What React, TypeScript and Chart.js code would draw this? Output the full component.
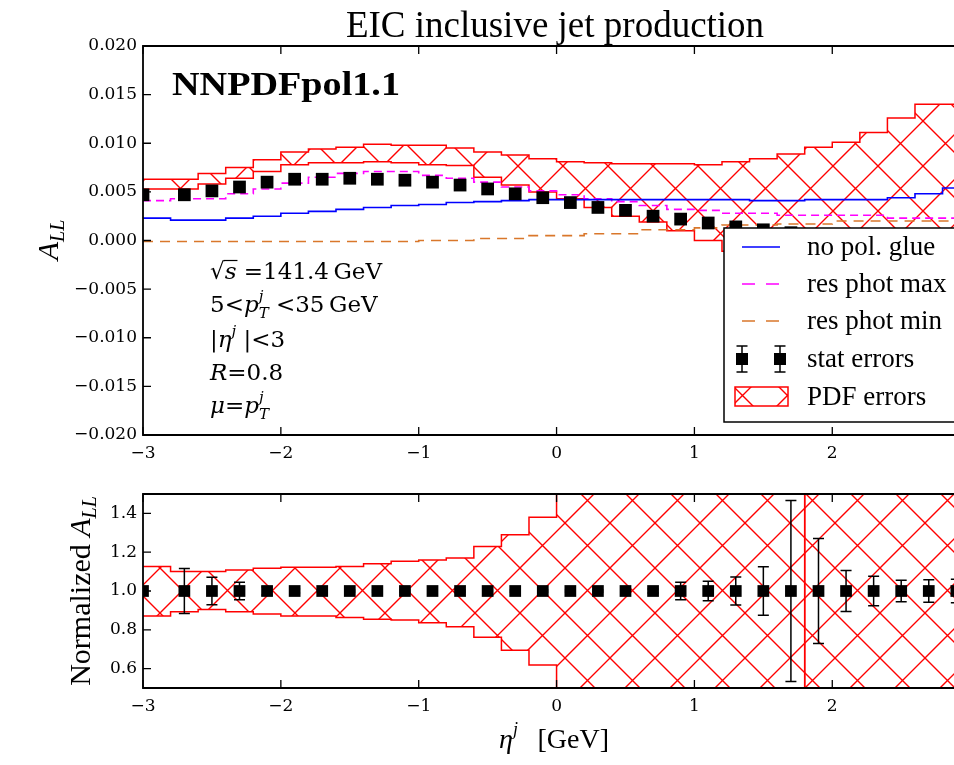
import React, { useEffect, useRef } from 'react';
import { Chart, registerables } from 'chart.js';

Chart.register(...registerables);

// ---------------- data ----------------
const BIN_LEFT = [-3.0, -2.8, -2.6, -2.4, -2.2, -2.0, -1.8, -1.6, -1.4, -1.2, -1.0, -0.8, -0.6, -0.4, -0.2, 0.0, 0.2, 0.4, 0.6, 0.8, 1.0, 1.2, 1.4, 1.6, 1.8, 2.0, 2.2, 2.4, 2.6, 2.8];
const BIN_END = 3.0;

const ETA_POINTS = [-3.0, -2.7, -2.5, -2.3, -2.1, -1.9, -1.7, -1.5, -1.3, -1.1, -0.9, -0.7, -0.5, -0.3, -0.1, 0.1, 0.3, 0.5, 0.7, 0.9, 1.1, 1.3, 1.5, 1.7, 1.9, 2.1, 2.3, 2.5, 2.7, 2.9];
const ALL_CENTRAL = [0.0047, 0.0047, 0.0051, 0.0055, 0.006, 0.0063, 0.0063, 0.0064, 0.0063, 0.0062, 0.006, 0.0057, 0.0053, 0.0048, 0.0044, 0.0039, 0.0034, 0.0031, 0.0025, 0.0022, 0.0018, 0.0014, 0.0011, 0.0008, 0.0006, 0.0005, 0.0004, 0.0004, 0.0003, 0.0003];
const STAT_REL_ERR = [0.0, 0.116, 0.071, 0.045, 0.02, 0.01, 0.006, 0.005, 0.005, 0.005, 0.005, 0.005, 0.005, 0.005, 0.005, 0.005, 0.005, 0.006, 0.01, 0.045, 0.05, 0.072, 0.125, 0.466, 0.27, 0.106, 0.076, 0.056, 0.058, 0.06];
const NORM_CENTRAL = [1, 1, 1, 1, 1, 1, 1, 1, 1, 1, 1, 1, 1, 1, 1, 1, 1, 1, 1, 1, 1, 1, 1, 1, 1, 1, 1, 1, 1, 1];

const PDF_UPPER = [0.0063, 0.0063, 0.0069, 0.0075, 0.0083, 0.0091, 0.0094, 0.0096, 0.0099, 0.0098, 0.0098, 0.0095, 0.0091, 0.0088, 0.0084, 0.0081, 0.008, 0.0079, 0.0079, 0.0079, 0.0078, 0.0081, 0.0084, 0.0089, 0.0096, 0.0101, 0.0111, 0.0126, 0.014, 0.014];
const PDF_LOWER = [0.0053, 0.0053, 0.0058, 0.0064, 0.0071, 0.0078, 0.008, 0.008, 0.0081, 0.008, 0.0078, 0.0077, 0.0065, 0.0057, 0.005, 0.0043, 0.0034, 0.0025, 0.0019, 0.001, 0.0, -0.0011, -0.002, -0.003, -0.004, -0.005, -0.006, -0.0075, -0.009, -0.01];
const NO_POL_GLUE = [0.0023, 0.0021, 0.0021, 0.0023, 0.0025, 0.0028, 0.003, 0.0032, 0.0034, 0.0036, 0.0037, 0.0039, 0.004, 0.0041, 0.0042, 0.0042, 0.0042, 0.0042, 0.0042, 0.0042, 0.0042, 0.0042, 0.0041, 0.0041, 0.0042, 0.0042, 0.0042, 0.0044, 0.0048, 0.0054];
const RES_PHOT_MAX = [0.0041, 0.0043, 0.0043, 0.0048, 0.0053, 0.0059, 0.0065, 0.0069, 0.0071, 0.0071, 0.0067, 0.0064, 0.006, 0.0055, 0.0051, 0.0047, 0.0043, 0.004, 0.0036, 0.0032, 0.0031, 0.0028, 0.0028, 0.0026, 0.0026, 0.0026, 0.0026, 0.0023, 0.0023, 0.0023];
const RES_PHOT_MIN = [-0.0001, -0.0001, -0.0001, -0.0001, -0.0001, -0.0001, -0.0001, -0.0001, -0.0001, -0.0001, 0.0, 0.0, 0.0002, 0.0002, 0.0005, 0.0005, 0.0007, 0.0007, 0.0011, 0.0011, 0.0013, 0.0016, 0.0016, 0.0017, 0.0017, 0.002, 0.002, 0.002, 0.002, 0.002];

const NORM_PDF_UPPER = [1.126, 1.1, 1.1, 1.108, 1.117, 1.122, 1.122, 1.126, 1.14, 1.153, 1.16, 1.17, 1.229, 1.29, 1.38, 1.62, 1.9, 2.3, 2.9, 3.8, 5.6, 9.5, 18.0, 60.0, -45.0, -20.0, -14.0, -10.0, -8.0, -7.0];
const NORM_PDF_LOWER = [0.871, 0.893, 0.905, 0.893, 0.881, 0.871, 0.871, 0.864, 0.854, 0.85, 0.836, 0.816, 0.761, 0.695, 0.618, 0.38, 0.12, -0.2, -0.6, -1.2, -2.5, -6.0, -14.0, -48.0, 52.0, 24.0, 18.0, 14.0, 11.0, 9.0];

const X_TICKS = [-3, -2, -1, 0, 1, 2];
const Y_TICKS_TOP = [-0.02, -0.015, -0.01, -0.005, 0, 0.005, 0.01, 0.015, 0.02];
const Y_TICKS_BOTTOM = [0.6, 0.8, 1.0, 1.2, 1.4];
const LEGEND_LABELS = ['no pol. glue', 'res phot max', 'res phot min', 'stat errors', 'PDF errors'];
const TITLE = 'EIC inclusive jet production';
const PDF_SET = 'NNPDFpol1.1';

// ---------------- layout / style ----------------
const W = 954;
const TOP_H = 470;
const BOT_H = 295;
const PLOT_LEFT = 143;
const X_MIN = -3;
const X_MAX = 2.883;
const TICK_FONT = "'DejaVu Serif'";
const TIMES = "'Liberation Serif'";
const C_BLUE = '#0000ff';
const C_MAG = '#ff00ff';
const C_ORANGE = '#d9772b';
const C_RED = '#ff0000';

const stepData = (vals: number[]) => {
  const pts = BIN_LEFT.map((x, i) => ({ x, y: vals[i] }));
  pts.push({ x: BIN_END, y: vals[vals.length - 1] });
  return pts;
};

const minusFmt = (v: number, d: number) => {
  const s = Math.abs(v).toFixed(d);
  return v < -1e-9 ? '\u2212' + s : s;
};

function makeHatch(ctx: CanvasRenderingContext2D, ox: number, oy: number) {
  const P = 45;
  const c = document.createElement('canvas');
  c.width = P;
  c.height = P;
  const g = c.getContext('2d')!;
  g.strokeStyle = C_RED;
  g.lineWidth = 1.4;
  g.beginPath();
  for (const k of [-P, 0, P]) {
    g.moveTo(k - 3, -3);
    g.lineTo(k + P + 3, P + 3);
    g.moveTo(k - 3, P + 3);
    g.lineTo(k + P + 3, -3);
  }
  g.stroke();
  const pat = ctx.createPattern(c, 'repeat')!;
  try {
    pat.setTransform(new DOMMatrix([1, 0, 0, 1, ox, oy]));
  } catch (e) {
    /* ignore */
  }
  return pat;
}

type Run = { t: string; size: number; italic?: boolean; dy?: number; noAdv?: boolean; family?: string };
function drawRuns(ctx: CanvasRenderingContext2D, x: number, y: number, runs: Run[]) {
  let cx = x;
  ctx.textAlign = 'left';
  ctx.textBaseline = 'alphabetic';
  for (const r of runs) {
    ctx.font = `${r.italic ? 'italic ' : ''}${r.size}px ${r.family || TICK_FONT}`;
    ctx.fillText(r.t, cx, y + (r.dy || 0));
    if (!r.noAdv) cx += ctx.measureText(r.t).width;
  }
  return cx;
}

function runsWidth(ctx: CanvasRenderingContext2D, runs: Run[]) {
  let w = 0;
  for (const r of runs) {
    ctx.font = `${r.italic ? 'italic ' : ''}${r.size}px ${r.family || TICK_FONT}`;
    if (!r.noAdv) w += ctx.measureText(r.t).width;
  }
  return w;
}

function drawFrameAndTicks(chart: any) {
  const { ctx, chartArea } = chart;
  const { left, right, top, bottom } = chartArea;
  const xs = chart.scales.x;
  const ys = chart.scales.y;
  ctx.save();
  ctx.strokeStyle = '#000';
  ctx.lineWidth = 1.3;
  ctx.beginPath();
  xs.ticks.forEach((t: any) => {
    const px = xs.getPixelForValue(t.value);
    ctx.moveTo(px, bottom);
    ctx.lineTo(px, bottom - 8);
    ctx.moveTo(px, top);
    ctx.lineTo(px, top + 8);
  });
  ys.ticks.forEach((t: any) => {
    const py = ys.getPixelForValue(t.value);
    ctx.moveTo(left, py);
    ctx.lineTo(left + 8, py);
  });
  ctx.stroke();
  ctx.lineWidth = 1.8;
  ctx.beginPath();
  ctx.moveTo(right + 5, top);
  ctx.lineTo(left, top);
  ctx.lineTo(left, bottom);
  ctx.lineTo(right + 5, bottom);
  ctx.stroke();
  ctx.restore();
}

const errorBarPlugin = {
  id: 'errorBars',
  beforeDatasetDraw(chart: any, args: any) {
    const ds = chart.data.datasets[args.index];
    if (!ds.errors) return;
    const { ctx, chartArea } = chart;
    const xs = chart.scales.x;
    const ys = chart.scales.y;
    ctx.save();
    ctx.beginPath();
    ctx.rect(chartArea.left, chartArea.top, chartArea.right - chartArea.left, chartArea.bottom - chartArea.top);
    ctx.clip();
    ctx.strokeStyle = '#000';
    ctx.lineWidth = 1.5;
    ctx.beginPath();
    ds.data.forEach((p: any, i: number) => {
      const e = ds.errors[i];
      if (!e) return;
      const px = xs.getPixelForValue(p.x);
      const y1 = ys.getPixelForValue(p.y + e);
      const y2 = ys.getPixelForValue(p.y - e);
      ctx.moveTo(px, y1);
      ctx.lineTo(px, y2);
      ctx.moveTo(px - 5.5, y1);
      ctx.lineTo(px + 5.5, y1);
      ctx.moveTo(px - 5.5, y2);
      ctx.lineTo(px + 5.5, y2);
    });
    ctx.stroke();
    ctx.restore();
  },
};

function drawLegend(chart: any, hatch: CanvasPattern) {
  const { ctx } = chart;
  ctx.save();
  const x0 = 724, y0 = 228, x1 = 962, y1 = 422;
  ctx.fillStyle = '#fff';
  ctx.fillRect(x0, y0, x1 - x0, y1 - y0);
  ctx.strokeStyle = '#000';
  ctx.lineWidth = 1.5;
  ctx.strokeRect(x0, y0, x1 - x0, y1 - y0);
  const rows = [247, 284, 321, 359, 397];
  const hx0 = 742, hx1 = 780;
  ctx.lineWidth = 1.6;
  ctx.strokeStyle = C_BLUE;
  ctx.beginPath();
  ctx.moveTo(hx0, rows[0]);
  ctx.lineTo(hx1, rows[0]);
  ctx.stroke();
  [C_MAG, C_ORANGE].forEach((c, k) => {
    ctx.strokeStyle = c;
    ctx.beginPath();
    ctx.moveTo(hx0, rows[1 + k]);
    ctx.lineTo(hx0 + 13, rows[1 + k]);
    ctx.moveTo(hx0 + 24, rows[1 + k]);
    ctx.lineTo(hx1 - 1, rows[1 + k]);
    ctx.stroke();
  });
  ctx.strokeStyle = '#000';
  ctx.fillStyle = '#000';
  ctx.lineWidth = 1.5;
  [hx0, hx1].forEach((px) => {
    const py = rows[3];
    ctx.beginPath();
    ctx.moveTo(px, py - 13);
    ctx.lineTo(px, py + 13);
    ctx.moveTo(px - 5.5, py - 13);
    ctx.lineTo(px + 5.5, py - 13);
    ctx.moveTo(px - 5.5, py + 13);
    ctx.lineTo(px + 5.5, py + 13);
    ctx.stroke();
    ctx.fillRect(px - 6, py - 6, 12, 12);
  });
  ctx.fillStyle = hatch;
  ctx.fillRect(735, 387, 53, 19);
  ctx.strokeStyle = C_RED;
  ctx.lineWidth = 1.5;
  ctx.strokeRect(735, 387, 53, 19);
  ctx.fillStyle = '#000';
  ctx.font = `27px ${TIMES}`;
  ctx.textAlign = 'left';
  ctx.textBaseline = 'middle';
  LEGEND_LABELS.forEach((l, i) => ctx.fillText(l, 807, rows[i] + 1));
  ctx.restore();
}

function drawTopTexts(chart: any) {
  const { ctx } = chart;
  ctx.save();
  ctx.fillStyle = '#000';
  ctx.font = `37px ${TIMES}`;
  ctx.textAlign = 'center';
  ctx.textBaseline = 'alphabetic';
  ctx.fillText(TITLE, 555, 37);
  ctx.font = `bold 34px ${TIMES}`;
  ctx.textAlign = 'left';
  const w = ctx.measureText(PDF_SET).width;
  ctx.save();
  ctx.translate(172, 95);
  ctx.scale(228 / w, 1);
  ctx.fillText(PDF_SET, 0, 0);
  ctx.restore();
  ctx.save();
  ctx.translate(58, 240);
  ctx.rotate(-Math.PI / 2);
  const yr: Run[] = [
    { t: 'A', size: 30, italic: true, family: TIMES },
    { t: 'LL', size: 20, italic: true, dy: 6, family: TIMES },
  ];
  drawRuns(ctx, -runsWidth(ctx, yr) / 2, 0, yr);
  ctx.restore();
  const S = 23;
  const SS = 15;
  const ax = 210;
  ctx.font = `${S}px ${TICK_FONT}`;
  const wr = ctx.measureText('\u221A').width;
  ctx.font = `italic ${S}px ${TICK_FONT}`;
  const ws = ctx.measureText('s').width;
  ctx.lineWidth = 1.2;
  ctx.strokeStyle = '#000';
  ctx.beginPath();
  ctx.moveTo(ax + wr - 1, 279 - 18.5);
  ctx.lineTo(ax + wr + ws + 1, 279 - 18.5);
  ctx.stroke();
  drawRuns(ctx, ax, 279, [
    { t: '\u221A', size: S },
    { t: 's', size: S, italic: true },
    { t: ' =141.4\u2009GeV', size: S },
  ]);
  drawRuns(ctx, ax, 312, [
    { t: '5<', size: S },
    { t: 'p', size: S, italic: true },
    { t: 'j', size: SS, italic: true, dy: -11, noAdv: true },
    { t: 'T', size: SS, italic: true, dy: 6 },
    { t: ' <35\u2009GeV', size: S },
  ]);
  drawRuns(ctx, ax, 347, [
    { t: '|', size: S },
    { t: '\u03B7', size: S, italic: true },
    { t: 'j', size: SS, italic: true, dy: -11 },
    { t: ' |<3', size: S },
  ]);
  drawRuns(ctx, ax, 380, [
    { t: 'R', size: S, italic: true },
    { t: '=0.8', size: S },
  ]);
  drawRuns(ctx, ax, 413, [
    { t: '\u03BC', size: S, italic: true },
    { t: '=', size: S },
    { t: 'p', size: S, italic: true },
    { t: 'j', size: SS, italic: true, dy: -11, noAdv: true },
    { t: 'T', size: SS, italic: true, dy: 6 },
  ]);
  ctx.restore();
}

function drawBottomTexts(chart: any) {
  const { ctx } = chart;
  ctx.save();
  ctx.fillStyle = '#000';
  ctx.save();
  ctx.translate(90, 121);
  ctx.rotate(-Math.PI / 2);
  const yr: Run[] = [
    { t: 'Normalized ', size: 30, family: TIMES },
    { t: 'A', size: 30, italic: true, family: TIMES },
    { t: 'LL', size: 20, italic: true, dy: 6, family: TIMES },
  ];
  drawRuns(ctx, -runsWidth(ctx, yr) / 2, 0, yr);
  ctx.restore();
  drawRuns(ctx, 499, 278, [
    { t: '\u03B7', size: 28, italic: true, family: TIMES },
    { t: 'j', size: 18, italic: true, dy: -13, family: TIMES },
    { t: '\u2002\u2009[GeV]', size: 28, family: TIMES },
  ]);
  ctx.restore();
}

const tickFont = { family: TICK_FONT, size: 17 };

function xScale(height: number) {
  return {
    type: 'linear',
    min: X_MIN,
    max: X_MAX,
    afterBuildTicks: (s: any) => {
      s.ticks = X_TICKS.map((v) => ({ value: v }));
    },
    afterFit: (s: any) => {
      s.height = height;
      s.paddingLeft = 0;
      s.paddingRight = 0;
    },
    grid: { display: false, drawTicks: false },
    border: { display: false },
    ticks: {
      padding: 8,
      color: '#000',
      font: tickFont,
      maxRotation: 0,
      autoSkip: false,
      callback: (v: any) => minusFmt(Number(v), 0),
    },
  };
}

function yScale(min: number, max: number, ticks: number[], dec: number) {
  return {
    type: 'linear',
    min,
    max,
    afterBuildTicks: (s: any) => {
      s.ticks = ticks.map((v) => ({ value: v }));
    },
    afterFit: (s: any) => {
      s.width = PLOT_LEFT;
      s.paddingTop = 0;
      s.paddingBottom = 0;
    },
    grid: { display: false, drawTicks: false },
    border: { display: false },
    ticks: {
      padding: 6,
      color: '#000',
      font: tickFont,
      autoSkip: false,
      callback: (v: any) => minusFmt(Number(v), dec),
    },
  };
}

const baseOptions = {
  responsive: false,
  maintainAspectRatio: false,
  animation: false,
  devicePixelRatio: 1,
  events: [],
  plugins: { legend: { display: false }, title: { display: false }, tooltip: { enabled: false } },
  elements: { line: { tension: 0 } },
};

export default function App() {
  const topRef = useRef<HTMLCanvasElement>(null);
  const botRef = useRef<HTMLCanvasElement>(null);

  useEffect(() => {
    const topCtx = topRef.current!.getContext('2d')!;
    const botCtx = botRef.current!.getContext('2d')!;
    const hatchTop = makeHatch(topCtx, 23, 31);
    const hatchLegend = makeHatch(topCtx, 735 + 30, 387 - 14);
    const hatchBot = makeHatch(botCtx, 25, 8);

    const lineDs = (label: string, vals: number[], color: string, dash: number[]) => ({
      label,
      data: stepData(vals),
      stepped: true,
      borderColor: color,
      borderWidth: 1.6,
      borderDash: dash,
      pointRadius: 0,
      fill: false,
      order: 1,
      clip: 0,
    });

    const topChart = new Chart(topCtx, {
      type: 'line',
      data: {
        datasets: [
          {
            label: 'stat errors',
            data: ETA_POINTS.map((x, i) => ({ x, y: ALL_CENTRAL[i] })),
            errors: ALL_CENTRAL.map((v, i) => v * STAT_REL_ERR[i]),
            showLine: false,
            pointStyle: 'rect',
            pointRadius: 9,
            pointHoverRadius: 9,
            pointBackgroundColor: '#000',
            pointBorderColor: '#000',
            pointBorderWidth: 0,
            order: 0,
            clip: 0,
          } as any,
          lineDs('no pol. glue', NO_POL_GLUE, C_BLUE, []),
          lineDs('res phot max', RES_PHOT_MAX, C_MAG, [8, 5]),
          lineDs('res phot min', RES_PHOT_MIN, C_ORANGE, [10, 7]),
          {
            label: 'PDF errors',
            data: stepData(PDF_UPPER),
            stepped: true,
            borderColor: C_RED,
            borderWidth: 1.5,
            backgroundColor: hatchTop,
            fill: '+1',
            pointRadius: 0,
            order: 3,
            clip: 0,
          },
          {
            label: 'PDF errors (lower)',
            data: stepData(PDF_LOWER),
            stepped: true,
            borderColor: C_RED,
            borderWidth: 1.5,
            fill: false,
            pointRadius: 0,
            order: 2,
            clip: 0,
          },
        ],
      },
      options: {
        ...baseOptions,
        layout: { autoPadding: false, padding: { top: 46, left: 0, right: 0, bottom: 0 } },
        scales: {
          x: xScale(TOP_H - 435),
          y: yScale(-0.02, 0.02, Y_TICKS_TOP, 3),
        },
      } as any,
      plugins: [
        errorBarPlugin,
        {
          id: 'topDecor',
          afterDraw(chart: any) {
            drawFrameAndTicks(chart);
            drawTopTexts(chart);
            drawLegend(chart, hatchLegend);
          },
        },
      ],
    } as any);

    const botChart = new Chart(botCtx, {
      type: 'line',
      data: {
        datasets: [
          {
            label: 'stat errors',
            data: ETA_POINTS.map((x, i) => ({ x, y: NORM_CENTRAL[i] })),
            errors: NORM_CENTRAL.map((v, i) => v * STAT_REL_ERR[i]),
            showLine: false,
            pointStyle: 'rect',
            pointRadius: 8.3,
            pointHoverRadius: 8.3,
            pointBackgroundColor: '#000',
            pointBorderColor: '#000',
            pointBorderWidth: 0,
            order: 0,
            clip: 0,
          } as any,
          {
            label: 'PDF errors',
            data: stepData(NORM_PDF_UPPER),
            stepped: true,
            borderColor: C_RED,
            borderWidth: 1.5,
            backgroundColor: hatchBot,
            fill: '+1',
            pointRadius: 0,
            order: 3,
            clip: 0,
          },
          {
            label: 'PDF errors (lower)',
            data: stepData(NORM_PDF_LOWER),
            stepped: true,
            borderColor: C_RED,
            borderWidth: 1.5,
            fill: false,
            pointRadius: 0,
            order: 2,
            clip: 0,
          },
        ],
      },
      options: {
        ...baseOptions,
        layout: { autoPadding: false, padding: { top: 24, left: 0, right: 0, bottom: 0 } },
        scales: {
          x: xScale(BOT_H - 218),
          y: yScale(0.5, 1.5, Y_TICKS_BOTTOM, 1),
        },
      } as any,
      plugins: [
        errorBarPlugin,
        {
          id: 'botDecor',
          afterDraw(chart: any) {
            drawFrameAndTicks(chart);
            drawBottomTexts(chart);
          },
        },
      ],
    } as any);

    return () => {
      topChart.destroy();
      botChart.destroy();
    };
  }, []);

  return (
    <div style={{ position: 'absolute', left: 0, top: 0, width: W, height: TOP_H + BOT_H, background: '#fff', overflow: 'hidden' }}>
      <canvas ref={topRef} width={W} height={TOP_H} style={{ position: 'absolute', left: 0, top: 0, width: W, height: TOP_H }} />
      <canvas ref={botRef} width={W} height={BOT_H} style={{ position: 'absolute', left: 0, top: TOP_H, width: W, height: BOT_H }} />
    </div>
  );
}
